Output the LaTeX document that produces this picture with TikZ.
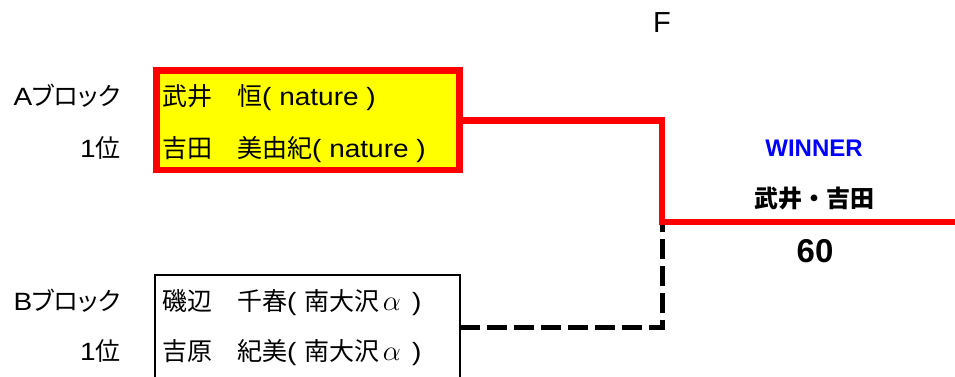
\documentclass[tikz,border=0pt]{standalone}
\usepackage{fontspec}
\setmainfont{Liberation Sans}
\newfontfamily\wide[FakeStretch=1.12]{Liberation Sans}
\newfontfamily\jp{Noto Sans CJK JP}
\newfontfamily\jpprop[RawFeature=+palt]{Noto Sans CJK JP}
\usetikzlibrary{positioning, calc}
\definecolor{winred}{RGB}{255,0,0}
\definecolor{boxyellow}{RGB}{255,255,0}
\definecolor{winblue}{RGB}{0,0,255}
\newcommand{\teamalpha}{\makebox[25pt]{\scalebox{1.15}{$\alpha$}}}

\begin{document}
\begin{tikzpicture}[x=1pt, y=-1pt,
    blocklabel/.style={anchor=base east, inner sep=0, font=\fontsize{25}{30}\selectfont\wide},
    player/.style={anchor=base west, inner sep=0, font=\fontsize{25}{30}\selectfont\wide},
    pairbox/.style={draw, inner sep=0, outer sep=0},
    winline/.style={winred, line width=6.5pt},
    loseline/.style={black, line width=5pt, dash pattern=on 20pt off 7pt}]
    \useasboundingbox (0,0) rectangle (955,376);

    % Block A pair
    \node[pairbox, draw=winred, line width=6.5pt, fill=boxyellow,
          minimum width=303pt, minimum height=99.5pt] (boxA) at (308,120.25) {};
    \node[blocklabel] (blockA) at (121,105) {A{\jpprop ブロック}};
    \node[blocklabel] (rankA) at (121,157) {1{\jp 位}};
    \node[player] (playerA1) at (162,105) {{\jp 武井　恒}( nature )};
    \node[player] (playerA2) at (162,157) {{\jp 吉田　美由紀}( nature )};

    % Block B pair
    \node[pairbox, line width=1.8pt,
          minimum width=305pt, minimum height=104pt] (boxB) at (307.5,327) {};
    \node[blocklabel] (blockB) at (121,310) {B{\jpprop ブロック}};
    \node[blocklabel] (rankB) at (121,360) {1{\jp 位}};
    \node[player] (playerB1) at (162,310) {{\jp 磯辺　千春}( {\jp 南大沢}\teamalpha\ )};
    \node[player] (playerB2) at (162,360) {{\jp 吉原　紀美}( {\jp 南大沢}\teamalpha\ )};

    % Final
    \node[anchor=base, inner sep=0, font=\fontsize{29}{34}\selectfont] (final) at (662,32) {F};
    \coordinate (finalpt) at (662,222);
    \coordinate (champ) at (955,222);

    \draw[loseline] (boxB.east) -| (finalpt);
    \draw[winline] (boxA.east) -| (finalpt) -- (champ);

    % Winner
    \node[anchor=base, inner sep=0, winblue, font=\fontsize{24}{28}\selectfont\bfseries] (winner) at (814,156) {WINNER};
    \node[anchor=base, inner sep=0, font=\fontsize{24}{28}\selectfont\jp\bfseries] (winpair) at (814,207) {武井・吉田};
    \node[anchor=base, inner sep=0, font=\fontsize{33}{38}\selectfont\bfseries] (score) at (815,262) {60};
\end{tikzpicture}
\end{document}
